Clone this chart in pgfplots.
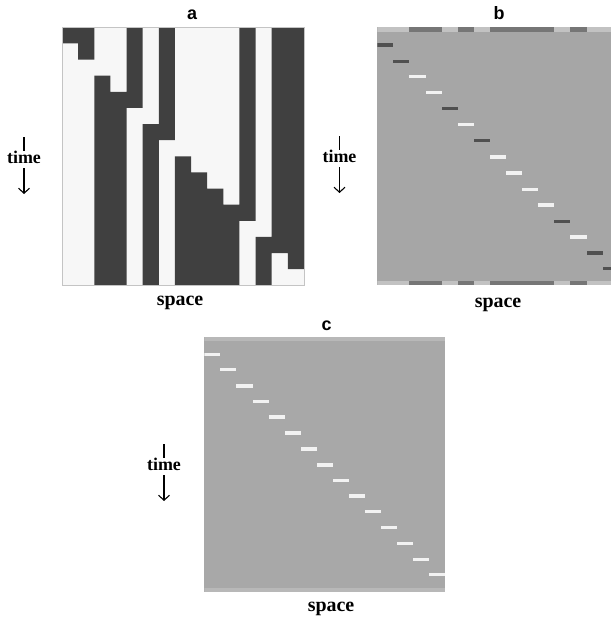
\documentclass[border=0pt]{standalone}
\usepackage{fontspec}
\setmainfont{Liberation Serif}
\setsansfont{Liberation Sans}
\usepackage{pgfplots}
\pgfplotsset{compat=1.18}
\usetikzlibrary{arrows.meta}

\definecolor{ablack}{HTML}{404040}
\definecolor{awhite}{HTML}{F7F7F7}
\definecolor{aframe}{HTML}{C4C4C4}
\definecolor{bgb}{HTML}{A6A6A6}
\definecolor{striplight}{HTML}{C2C2C2}
\definecolor{stripdark}{HTML}{767676}
\definecolor{bardark}{HTML}{505050}
\definecolor{barlight}{HTML}{F2F2F2}
\definecolor{bgc}{HTML}{A8A8A8}
\definecolor{stripc}{HTML}{B8B8B8}

% rectangle: x0 x1 y0 y1 colour
\newcommand\cell[5]{\addplot[fill=#5,draw=none,forget plot] coordinates {(#1,#3) (#2,#3) (#2,#4) (#1,#4)};}

\pgfplotsset{panel/.style={scale only axis, y dir=reverse, xtick=\empty, ytick=\empty,
  ymin=0, ymax=16, xmin=0, clip=true, anchor=north west, axis on top}}

\newcommand\timelabel[2]{%
  \draw[line width=1.1bp] (#1bp,{-(#2-26)*1bp}) -- (#1bp,{-(#2-12)*1bp});
  \node[font=\bfseries\fontsize{18}{20}\selectfont, anchor=base] at (#1bp,-#2bp) {time};
  \draw[line width=1.1bp, -{Straight Barb[length=5bp,width=11bp]}] (#1bp,{-(#2+5)*1bp}) -- (#1bp,{-(#2+31)*1bp});
}

\begin{document}
\begin{tikzpicture}
\path[use as bounding box] (0,0) rectangle (611bp,-618bp);

% ---------------- panel a ----------------
\begin{axis}[panel, at={(62bp,-27.3bp)}, width=242bp, height=258bp, xmax=15,
  axis background/.style={fill=awhite}, axis line style={aframe, line width=1bp}]
\addplot[fill=ablack,draw=none] coordinates {(0,0) (2,0) (2,2) (1,2) (1,1) (0,1)};
\addplot[fill=ablack,draw=none] coordinates {(4,0) (5,0) (5,5) (4,5) (4,16) (2,16) (2,3) (3,3) (3,4) (4,4)};
\addplot[fill=ablack,draw=none] coordinates {(6,0) (7,0) (7,7) (6,7) (6,16) (5,16) (5,6) (6,6)};
\addplot[fill=ablack,draw=none] coordinates {(11,0) (12,0) (12,12) (11,12) (11,16) (7,16) (7,8) (8,8) (8,9) (9,9) (9,10) (10,10) (10,11) (11,11)};
\addplot[fill=ablack,draw=none] coordinates {(13,0) (15,0) (15,15) (14,15) (14,14) (13,14) (13,16) (12,16) (12,13) (13,13)};
\end{axis}

% ---------------- panel b ----------------
\begin{axis}[panel, at={(377.3bp,-27.3bp)}, width=233.7bp, height=258bp, xmax=14.52,
  axis background/.style={fill=bgb}, axis line style={draw=none}]
% top and bottom strips
\cell{0}{2}{0}{0.3}{striplight}   \cell{0}{2}{15.75}{16}{striplight}
\cell{2}{4}{0}{0.3}{stripdark}    \cell{2}{4}{15.75}{16}{stripdark}
\cell{4}{5}{0}{0.3}{striplight}   \cell{4}{5}{15.75}{16}{striplight}
\cell{5}{6}{0}{0.3}{stripdark}    \cell{5}{6}{15.75}{16}{stripdark}
\cell{6}{7}{0}{0.3}{striplight}   \cell{6}{7}{15.75}{16}{striplight}
\cell{7}{11}{0}{0.3}{stripdark}   \cell{7}{11}{15.75}{16}{stripdark}
\cell{11}{12}{0}{0.3}{striplight} \cell{11}{12}{15.75}{16}{striplight}
\cell{12}{13}{0}{0.3}{stripdark}  \cell{12}{13}{15.75}{16}{stripdark}
\cell{13}{15}{0}{0.3}{striplight} \cell{13}{15}{15.75}{16}{striplight}
% diagonal bars
\cell{0}{1}{1.00}{1.20}{bardark}
\cell{1}{2}{2.00}{2.20}{bardark}
\cell{2}{3}{2.95}{3.15}{barlight}
\cell{3}{4}{3.95}{4.15}{barlight}
\cell{4}{5}{4.92}{5.12}{bardark}
\cell{5}{6}{5.92}{6.12}{barlight}
\cell{6}{7}{6.92}{7.12}{bardark}
\cell{7}{8}{7.94}{8.14}{barlight}
\cell{8}{9}{8.94}{9.14}{barlight}
\cell{9}{10}{9.94}{10.14}{barlight}
\cell{10}{11}{10.92}{11.12}{barlight}
\cell{11}{12}{11.92}{12.12}{bardark}
\cell{12}{13}{12.90}{13.10}{barlight}
\cell{13}{14}{13.90}{14.10}{bardark}
\cell{14}{15}{14.88}{15.08}{bardark}
\end{axis}

% ---------------- panel c ----------------
\begin{axis}[panel, at={(204.3bp,-336.7bp)}, width=241bp, height=255bp, xmax=15,
  axis background/.style={fill=bgc}, axis line style={draw=none}]
\cell{0}{15}{0}{0.28}{stripc}
\cell{0}{15}{15.75}{16}{stripc}
\cell{0}{1}{1.00}{1.20}{barlight}
\cell{1}{2}{1.94}{2.14}{barlight}
\cell{2}{3}{2.99}{3.19}{barlight}
\cell{3}{4}{3.98}{4.18}{barlight}
\cell{4}{5}{4.94}{5.14}{barlight}
\cell{5}{6}{5.94}{6.14}{barlight}
\cell{6}{7}{6.95}{7.15}{barlight}
\cell{7}{8}{7.95}{8.15}{barlight}
\cell{8}{9}{8.93}{9.13}{barlight}
\cell{9}{10}{9.90}{10.10}{barlight}
\cell{10}{11}{10.89}{11.09}{barlight}
\cell{11}{12}{11.85}{12.05}{barlight}
\cell{12}{13}{12.88}{13.08}{barlight}
\cell{13}{14}{13.88}{14.08}{barlight}
\cell{14}{15}{14.84}{15.04}{barlight}
\end{axis}

% ---------------- labels ----------------
\node[font=\sffamily\bfseries\fontsize{18}{20}\selectfont, anchor=base] at (192bp,-19bp) {a};
\node[font=\sffamily\bfseries\fontsize{18}{20}\selectfont, anchor=base] at (499bp,-19bp) {b};
\node[font=\sffamily\bfseries\fontsize{18}{20}\selectfont, anchor=base] at (326.5bp,-330bp) {c};

\node[font=\bfseries\fontsize{20}{22}\selectfont, anchor=base] at (180bp,-305.5bp) {space};
\node[font=\bfseries\fontsize{20}{22}\selectfont, anchor=base] at (498bp,-307bp) {space};
\node[font=\bfseries\fontsize{20}{22}\selectfont, anchor=base] at (331bp,-611bp) {space};

\timelabel{24}{163}
\timelabel{339.5}{162}
\timelabel{164}{470}
\end{tikzpicture}
\end{document}
